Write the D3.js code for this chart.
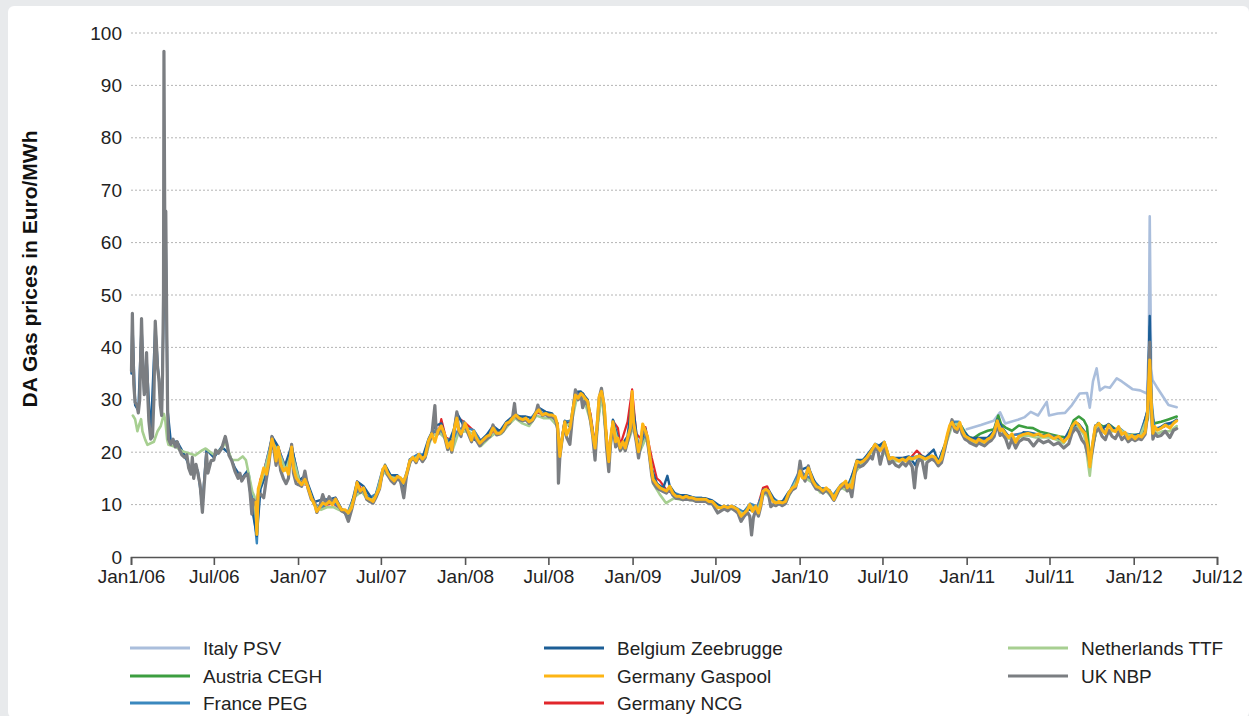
<!DOCTYPE html>
<html><head><meta charset="utf-8">
<script src="https://cdn.jsdelivr.net/npm/d3@7"></script>
<style>body{margin:0;background:#e8eaec;}svg{display:block;}</style>
</head><body>
<svg id="chart" width="1249" height="716"></svg>
<script>
// ---------- DATA ----------
const yTicks = [0,10,20,30,40,50,60,70,80,90,100];
const xTickDates = ["2006-01-01","2006-07-01","2007-01-01","2007-07-01","2008-01-01","2008-07-01","2009-01-01","2009-07-01","2010-01-01","2010-07-01","2011-01-01","2011-07-01","2012-01-01","2012-07-01"];
const xTickLabels = ["Jan1/06","Jul/06","Jan/07","Jul/07","Jan/08","Jul/08","Jan/09","Jul/09","Jan/10","Jul/10","Jan/11","Jul/11","Jan/12","Jul/12"];
const seriesNames = ["Italy PSV","Austria CEGH","Germany NCG","France PEG","Belgium Zeebrugge","Netherlands TTF","UK NBP","Germany Gaspool"];
const legendOrder = ["Italy PSV","Belgium Zeebrugge","Netherlands TTF","Austria CEGH","Germany Gaspool","UK NBP","France PEG","Germany NCG"];

const italyPSV = [["2011-01-01",24.4],["2011-02-01",25.2],["2011-03-01",26],["2011-03-15",27.6],["2011-03-26",25.5],["2011-04-23",26.2],["2011-05-08",26.7],["2011-05-21",27.7],["2011-06-06",27],["2011-06-25",29.6],["2011-06-30",27],["2011-07-19",27.4],["2011-08-04",27.5],["2011-08-19",29],["2011-09-05",31.2],["2011-09-21",31.3],["2011-09-27",28.5],["2011-10-04",33.5],["2011-10-12",36],["2011-10-19",31.8],["2011-10-30",32.5],["2011-11-10",32.3],["2011-11-25",34.1],["2011-12-06",33.5],["2011-12-17",32.8],["2011-12-30",32],["2012-01-15",31.8],["2012-01-30",31.2],["2012-02-03",40],["2012-02-05",65],["2012-02-08",36],["2012-02-11",33.8],["2012-02-20",32.5],["2012-03-02",31],["2012-03-17",29],["2012-04-04",28.6]];

const austriaCEGH = [["2010-12-20",25],["2011-01-03",23],["2011-01-15",22.6],["2011-01-30",23.5],["2011-02-16",24.1],["2011-03-02",24.4],["2011-03-11",27],["2011-03-17",25.4],["2011-03-27",24.7],["2011-04-10",24.1],["2011-04-25",25.1],["2011-05-12",24.7],["2011-05-26",24.6],["2011-06-10",23.9],["2011-06-25",23.6],["2011-07-09",23.3],["2011-07-24",23],["2011-08-08",22.8],["2011-08-23",26.1],["2011-09-03",26.8],["2011-09-14",26.1],["2011-09-21",24.9],["2011-09-27",19],["2011-10-02",20.5],["2011-10-15",25.5],["2011-10-26",24.9],["2011-11-10",25.2],["2011-11-25",24.2],["2011-12-09",23.6],["2011-12-23",23.3],["2012-01-07",23.3],["2012-01-21",23.6],["2012-02-01",26.5],["2012-02-05",38],["2012-02-09",27],["2012-02-15",25.5],["2012-03-01",25.8],["2012-03-15",26.2],["2012-04-04",26.8]];

const francePEG = [["2006-09-15",16],["2006-09-25",10],["2006-10-03",2.6],["2006-10-08",13.5],["2006-10-20",16.8],["2006-11-05",22.8],["2006-11-20",20.5],["2006-12-05",17],["2006-12-18",21],["2007-01-05",14.3],["2007-01-20",14],["2007-02-05",10.2],["2007-02-20",9.4],["2007-03-05",10.2],["2007-03-20",10.4],["2007-04-05",9.2],["2007-04-20",8.6],["2007-05-05",12],["2007-05-20",13],["2007-06-05",11.2],["2007-06-20",12],["2007-07-05",16.8],["2007-07-20",15.6],["2007-08-05",15.6],["2007-08-20",14.5],["2007-09-05",18.8],["2007-09-20",19.6],["2007-10-05",19.5],["2007-10-20",23.7],["2007-11-05",24.4],["2007-11-20",22.6],["2007-12-05",22],["2007-12-18",24.5],["2008-01-05",24.6],["2008-01-20",24.2],["2008-02-05",22],["2008-02-20",23.3],["2008-03-05",24.3],["2008-03-20",24],["2008-04-05",26],["2008-04-20",27.3],["2008-05-05",26.5],["2008-05-20",26],["2008-06-05",27.8],["2008-06-20",27.4],["2008-07-05",27.4],["2008-07-20",25.5],["2008-07-26",19.5],["2008-08-05",25.8],["2008-08-20",26],["2008-09-01",31],["2008-09-15",31.2],["2008-10-01",26.8],["2008-10-11",21],["2008-10-25",31.8],["2008-11-10",18.5],["2008-11-20",26],["2008-12-05",21],["2008-12-20",22.5],["2009-01-03",26],["2009-01-15",20.5],["2009-02-01",23.5],["2009-02-15",15],["2009-03-01",13.4],["2009-03-15",12.8],["2009-04-01",12.3],["2009-04-15",11.8],["2009-05-01",11.6],["2009-05-15",11.3],["2009-06-01",11.3],["2009-06-15",10.9],["2009-07-01",10],["2009-07-15",9.6],["2009-08-01",9.6],["2009-08-15",9.4],["2009-09-01",8.6],["2009-09-15",10.2],["2009-10-01",9.6],["2009-10-15",12.9],["2009-11-01",11.4],["2009-11-15",10.6],["2009-12-01",10.7],["2009-12-15",13.4],["2010-01-01",16.5],["2010-01-15",15.5],["2010-02-01",14.6],["2010-02-15",13.2],["2010-03-01",13],["2010-03-15",11.8],["2010-04-01",13.8],["2010-04-15",13.4],["2010-05-01",16.6],["2010-05-15",18.2],["2010-06-01",19.6],["2010-06-15",21.6],["2010-07-01",21],["2010-07-15",19],["2010-08-01",18.7],["2010-08-15",18.8],["2010-09-01",19],["2010-09-15",19.2],["2010-10-01",18.9],["2010-10-15",19.3],["2010-11-01",18.2],["2010-11-15",21.4],["2010-12-01",25.8],["2010-12-15",25.8],["2011-01-01",23],["2011-01-15",22.4],["2011-02-01",22.4],["2011-02-15",22.7],["2011-03-01",24],["2011-03-09",26.2],["2011-03-20",24.5],["2011-04-01",23],["2011-04-15",23.3],["2011-05-01",23.6],["2011-05-15",23.8],["2011-06-01",23.5],["2011-06-15",23.2],["2011-07-01",23.3],["2011-07-15",22.8],["2011-08-01",22.2],["2011-08-15",23.8],["2011-09-01",25.5],["2011-09-15",23.8],["2011-09-27",17.5],["2011-10-05",22],["2011-10-15",25.6],["2011-11-01",23.8],["2011-11-15",24.3],["2011-12-01",24.6],["2011-12-15",23.6],["2012-01-01",23.2],["2012-01-15",23.5],["2012-02-01",28],["2012-02-05",44],["2012-02-09",30],["2012-02-15",24.5],["2012-03-01",24.8],["2012-03-15",25.2],["2012-04-04",26.2]];

const belgiumZeebrugge = [["2006-01-02",35],["2006-01-04",45],["2006-01-10",29],["2006-01-17",28],["2006-01-24",44],["2006-01-30",31],["2006-02-04",38],["2006-02-13",23],["2006-02-23",44],["2006-03-01",36],["2006-03-09",28],["2006-03-14",50],["2006-03-18",60],["2006-03-22",28],["2006-03-29",22],["2006-04-12",22],["2006-04-28",19.5],["2006-05-12",16.5],["2006-05-27",16.5],["2006-06-06",10],["2006-06-15",20.5],["2006-07-01",19],["2006-07-18",21],["2006-08-03",19.8],["2006-08-16",17],["2006-08-31",15],["2006-09-13",16.5],["2006-09-22",9.5],["2006-10-03",4],["2006-10-11",13],["2006-10-24",16],["2006-11-05",23],["2006-11-19",21],["2006-11-30",16.5],["2006-12-18",21.3],["2007-01-02",14.5],["2007-01-16",15.5],["2007-02-06",10.5],["2007-02-24",11],["2007-03-10",11],["2007-03-24",11.3],["2007-04-06",9.2],["2007-04-21",7.5],["2007-05-10",14.4],["2007-05-24",13.5],["2007-06-14",10.8],["2007-06-28",13.5],["2007-07-10",17.6],["2007-07-23",15.5],["2007-08-06",15.6],["2007-08-20",13],["2007-09-02",18.6],["2007-09-16",18.6],["2007-09-30",19],["2007-10-13",22.5],["2007-10-27",25],["2007-11-10",25.5],["2007-11-24",21.3],["2007-12-08",24.5],["2007-12-14",27.5],["2007-12-29",25],["2008-01-15",22.6],["2008-02-02",22],["2008-02-17",23.3],["2008-03-02",25],["2008-03-17",24],["2008-03-31",25.8],["2008-04-14",26.8],["2008-04-28",26.8],["2008-05-13",26.8],["2008-05-27",26.5],["2008-06-10",28.5],["2008-06-25",27.7],["2008-07-09",27.4],["2008-07-21",25.5],["2008-07-26",19.5],["2008-08-06",26],["2008-08-17",24.8],["2008-08-29",31.5],["2008-09-10",31.6],["2008-09-25",30],["2008-10-11",21],["2008-10-25",32],["2008-11-10",18.5],["2008-11-19",26.2],["2008-12-05",21],["2008-12-21",23],["2008-12-31",30],["2009-01-14",20.5],["2009-01-29",24.5],["2009-02-12",16.8],["2009-02-23",14],["2009-03-09",13.2],["2009-03-18",15.5],["2009-03-23",13.6],["2009-04-06",11.8],["2009-04-28",11.8],["2009-05-20",11.2],["2009-06-10",11.2],["2009-06-24",10.8],["2009-07-13",9.6],["2009-07-28",9.6],["2009-08-12",9.6],["2009-08-26",8],["2009-09-09",9.2],["2009-09-20",8.8],["2009-10-03",8.8],["2009-10-13",12.8],["2009-10-25",12.8],["2009-11-10",10.5],["2009-11-24",10.5],["2009-12-08",12.4],["2009-12-23",13.7],["2010-01-02",16.6],["2010-01-20",17.2],["2010-02-06",13.7],["2010-02-21",12.8],["2010-03-07",12.8],["2010-03-17",11.2],["2010-04-04",14],["2010-04-20",14],["2010-05-06",18.5],["2010-05-20",18.5],["2010-06-09",20.8],["2010-06-21",21.1],["2010-07-05",22],["2010-07-16",18.9],["2010-07-30",18.9],["2010-08-14",18.9],["2010-08-28",19.2],["2010-09-11",17.5],["2010-09-19",19.5],["2010-10-03",19],["2010-10-21",20.5],["2010-10-31",18.2],["2010-11-14",21.4],["2010-11-30",25.9],["2010-12-11",24.6],["2010-12-22",24.3],["2011-01-08",22.7],["2011-01-27",22.7],["2011-02-16",22.7],["2011-03-02",24],["2011-03-09",26.2],["2011-03-20",24.6],["2011-04-03",23],["2011-04-18",22.1],["2011-05-05",23.8],["2011-05-27",23.5],["2011-06-18",23.2],["2011-07-10",22.8],["2011-08-01",22.2],["2011-08-19",25.1],["2011-09-03",25.4],["2011-09-17",23.8],["2011-09-27",18],["2011-10-09",25.1],["2011-10-24",24.4],["2011-11-07",25.4],["2011-11-22",24.1],["2011-12-06",23.8],["2011-12-20",23.2],["2012-01-04",23.2],["2012-01-18",23.5],["2012-01-31",28],["2012-02-05",46],["2012-02-08",31],["2012-02-12",24],["2012-02-22",24.4],["2012-03-10",25.4],["2012-03-28",25.7],["2012-04-04",26.2]];

const netherlandsTTF = [["2006-01-05",27],["2006-01-10",26.3],["2006-01-15",24],["2006-01-19",25.3],["2006-01-23",26.3],["2006-01-26",24],["2006-02-01",22.4],["2006-02-06",21.4],["2006-02-13",21.7],["2006-02-20",22],["2006-02-28",24],["2006-03-07",25],["2006-03-14",27.3],["2006-03-17",26],["2006-03-21",22.4],["2006-03-24",21.4],["2006-04-09",21],["2006-04-23",20.2],["2006-05-07",19.8],["2006-05-21",19.4],["2006-06-06",20.4],["2006-06-13",20.7],["2006-07-01",19.5],["2006-07-19",20.7],["2006-07-26",22],["2006-08-09",18.5],["2006-08-23",18.5],["2006-09-02",19.2],["2006-09-09",18.5],["2006-09-16",15.5],["2006-09-23",12.5],["2006-09-28",11.5],["2006-10-03",5],["2006-10-06",12.5],["2006-10-20",16.5],["2006-11-05",22],["2006-11-20",20],["2006-12-05",16.5],["2006-12-18",20],["2007-01-05",14],["2007-01-20",14],["2007-02-05",10],["2007-02-20",9],["2007-03-05",9.5],["2007-03-20",9.5],["2007-04-05",8.8],["2007-04-20",8.2],["2007-05-05",11.5],["2007-05-20",12.5],["2007-06-05",10.6],["2007-06-20",11.5],["2007-07-05",16.3],["2007-07-20",15.3],["2007-08-05",15],["2007-08-20",14],["2007-09-05",18.5],["2007-09-20",19.2],["2007-10-05",18.8],["2007-10-20",23],["2007-11-05",23.8],["2007-11-20",22.5],["2007-12-03",20],["2007-12-18",23.8],["2008-01-05",24],["2008-01-20",23.5],["2008-02-05",21.2],["2008-02-20",22.5],["2008-03-05",23.5],["2008-03-20",23.5],["2008-04-05",25.2],["2008-04-20",26.5],["2008-05-05",25.5],["2008-05-20",25],["2008-06-05",27],["2008-06-20",26.5],["2008-07-05",26.5],["2008-07-20",25],["2008-07-26",19.5],["2008-08-05",25],["2008-08-20",25.5],["2008-09-01",30.3],["2008-09-15",30.5],["2008-10-01",26],["2008-10-11",20.5],["2008-10-25",31.2],["2008-11-10",18.3],["2008-11-20",25.3],["2008-12-05",20.3],["2008-12-20",21.5],["2009-01-03",25],["2009-01-15",19.8],["2009-02-01",23],["2009-02-15",14],["2009-03-01",12],["2009-03-15",10.3],["2009-04-01",11.2],["2009-04-15",11],["2009-05-01",11],["2009-05-15",10.8],["2009-06-01",10.8],["2009-06-15",10.4],["2009-07-01",9.8],["2009-07-15",9.2],["2009-08-01",9.2],["2009-08-15",9],["2009-09-01",8.2],["2009-09-15",9.8],["2009-10-01",8.8],["2009-10-15",12.3],["2009-11-01",11],["2009-11-15",10.2],["2009-12-01",10.2],["2009-12-15",12.8],["2010-01-01",15.8],["2010-01-15",15],["2010-02-01",14],["2010-02-15",12.3],["2010-03-01",12.5],["2010-03-15",11.2],["2010-04-01",13.3],["2010-04-15",12.6],["2010-05-01",16],["2010-05-15",17.5],["2010-06-01",19.3],["2010-06-15",21],["2010-07-01",20.5],["2010-07-15",18.7],["2010-08-01",18.3],["2010-08-15",18.3],["2010-09-01",18.6],["2010-09-15",18.9],["2010-10-01",18.6],["2010-10-15",18.9],["2010-11-01",17.8],["2010-11-15",21],["2010-12-01",25.3],["2010-12-15",25.4],["2011-01-01",22.6],["2011-01-15",21.7],["2011-02-01",21.7],["2011-02-15",22],["2011-03-01",23.5],["2011-03-09",25.6],["2011-03-20",24],["2011-04-01",22.6],["2011-04-15",22.5],["2011-05-01",23],["2011-05-15",23.2],["2011-06-01",22.8],["2011-06-15",22.8],["2011-07-01",22.8],["2011-07-15",22.4],["2011-08-01",21.7],["2011-08-15",23.5],["2011-09-01",25],["2011-09-15",23.2],["2011-09-27",15.5],["2011-10-05",22],["2011-10-15",25],["2011-11-01",23.4],["2011-11-15",24],["2011-12-01",24.4],["2011-12-15",23.5],["2012-01-01",23],["2012-01-15",23],["2012-02-01",27],["2012-02-05",37],["2012-02-10",25],["2012-02-20",23.5],["2012-03-05",24],["2012-03-20",24],["2012-04-04",25]];

const germanyNCG = [["2006-10-03",5],["2006-10-10",14.6],["2006-10-20",17],["2006-11-05",22.5],["2006-11-20",20.6],["2006-12-05",17],["2006-12-18",21],["2007-01-05",14],["2007-01-20",13.8],["2007-02-05",10],["2007-02-20",9.2],["2007-03-05",10],["2007-03-20",10.2],["2007-04-05",9],["2007-04-20",8.5],["2007-05-05",11.8],["2007-05-10",14.4],["2007-05-20",12.8],["2007-06-05",11],["2007-06-20",11.8],["2007-07-05",16.6],["2007-07-20",15.4],["2007-08-05",15.4],["2007-08-20",14.2],["2007-09-05",18.6],["2007-09-20",19.6],["2007-10-05",19.2],["2007-10-20",23.5],["2007-11-05",24.2],["2007-11-10",26.3],["2007-11-20",22.8],["2007-12-05",22.1],["2007-12-14",26.8],["2008-01-01",25.6],["2008-01-20",24.1],["2008-02-05",22],["2008-02-20",23.1],["2008-03-05",24.1],["2008-03-20",23.8],["2008-04-05",25.8],["2008-04-20",27.1],["2008-05-05",26.3],["2008-05-20",26],["2008-06-05",27.6],["2008-06-20",27.2],["2008-07-05",27.2],["2008-07-20",25.6],["2008-07-26",19.8],["2008-08-05",25.8],["2008-08-20",25.8],["2008-09-01",31.3],["2008-09-15",31.2],["2008-10-01",27.4],["2008-10-11",21.3],["2008-10-25",31.8],["2008-11-05",23.5],["2008-11-10",18.8],["2008-11-19",26],["2008-11-30",24.6],["2008-12-05",21.3],["2008-12-21",25.8],["2008-12-31",32],["2009-01-09",23.5],["2009-01-19",22.6],["2009-01-29",24.8],["2009-02-08",20.5],["2009-02-12",18.9],["2009-02-23",15],["2009-03-02",14.5],["2009-03-16",12.8],["2009-04-01",12],["2009-04-15",11.6],["2009-05-01",11.4],["2009-05-15",11.1],["2009-06-01",11.1],["2009-06-15",10.7],["2009-07-01",9.7],["2009-07-15",9.4],["2009-08-01",9.6],["2009-08-15",9.2],["2009-09-01",8.5],["2009-09-15",10],["2009-10-01",9.5],["2009-10-13",13.2],["2009-10-22",13.5],["2009-11-01",11.4],["2009-11-15",10.4],["2009-12-01",10.6],["2009-12-15",13.2],["2010-01-01",16.3],["2010-01-15",15.4],["2010-02-01",14.5],["2010-02-15",13.1],["2010-03-01",13],["2010-03-15",11.6],["2010-04-01",13.7],["2010-04-15",13.2],["2010-05-01",16.4],["2010-05-15",18.1],["2010-06-01",19.4],["2010-06-15",21.5],["2010-07-01",20.8],["2010-07-15",18.8],["2010-08-01",18.6],["2010-08-15",18.7],["2010-09-01",19],["2010-09-14",20.3],["2010-10-01",18.8],["2010-10-15",19.2],["2010-11-01",18.1],["2010-11-15",21.3],["2010-12-01",25.6],["2010-12-15",25.4],["2011-01-01",23],["2011-01-15",22.3],["2011-02-01",22.2],["2011-02-15",22.6],["2011-03-01",23.8],["2011-03-09",26],["2011-03-20",24.4],["2011-04-01",23],["2011-04-15",23.3],["2011-05-01",23.5],["2011-05-15",23.6],["2011-06-01",23.4],["2011-06-15",23.1],["2011-07-01",23.3],["2011-07-15",22.8],["2011-08-01",22.1],["2011-08-15",23.6],["2011-09-01",25.4],["2011-09-15",23.7],["2011-09-27",17.6],["2011-10-05",22],["2011-10-15",25.4],["2011-11-01",23.8],["2011-11-15",24.2],["2011-12-01",24.4],["2011-12-15",23.5],["2012-01-01",23.1],["2012-01-15",23.4],["2012-02-01",27.8],["2012-02-05",38.3],["2012-02-09",28.8],["2012-02-15",24.4],["2012-03-01",24.6],["2012-03-15",25.2],["2012-04-04",26.1]];

const ukNBP = [["2006-01-02",35.5],["2006-01-04",46.5],["2006-01-07",33],["2006-01-10",29.5],["2006-01-14",29],["2006-01-17",27.5],["2006-01-20",30],["2006-01-24",45.5],["2006-01-27",36],["2006-01-30",31],["2006-02-02",33],["2006-02-04",39],["2006-02-07",30],["2006-02-09",26],["2006-02-13",22.5],["2006-02-17",23],["2006-02-20",30],["2006-02-23",45],["2006-02-26",40],["2006-02-28",36],["2006-03-03",34],["2006-03-06",29],["2006-03-09",27],["2006-03-11",35],["2006-03-13",50],["2006-03-14",96.5],["2006-03-16",60],["2006-03-18",66],["2006-03-20",45],["2006-03-22",28],["2006-03-24",22.5],["2006-03-29",21.5],["2006-04-03",22.5],["2006-04-08",21],["2006-04-12",22],["2006-04-17",20.5],["2006-04-22",19.5],["2006-04-28",19],["2006-05-03",19.5],["2006-05-07",17],["2006-05-12",15.8],["2006-05-15",19],["2006-05-18",15],["2006-05-23",17.7],["2006-05-27",16],["2006-06-01",13.8],["2006-06-06",8.5],["2006-06-10",13.8],["2006-06-15",19.7],["2006-06-18",16],["2006-06-25",18.4],["2006-07-01",18.5],["2006-07-05",20.4],["2006-07-11",19.8],["2006-07-18",20.7],["2006-07-26",23],["2006-07-30",21.5],["2006-08-03",19.4],["2006-08-09",18.4],["2006-08-16",16.4],["2006-08-23",15],["2006-08-27",16],["2006-08-31",14.5],["2006-09-07",15.5],["2006-09-13",15.8],["2006-09-18",12.5],["2006-09-22",8.2],["2006-09-25",11],["2006-09-29",10.5],["2006-10-03",9.5],["2006-10-06",12],["2006-10-11",12],["2006-10-18",11.3],["2006-10-24",15],["2006-10-29",17.5],["2006-11-05",23],["2006-11-10",20],["2006-11-14",17.5],["2006-11-19",20],["2006-11-24",16.5],["2006-11-30",15],["2006-12-06",14],["2006-12-11",15],["2006-12-18",21.5],["2006-12-22",16],["2006-12-28",14],["2007-01-02",13.8],["2007-01-09",13.5],["2007-01-16",16.4],["2007-01-23",13],["2007-01-30",11],["2007-02-06",10.6],["2007-02-11",8.5],["2007-02-17",9.6],["2007-02-24",11.9],["2007-03-03",10],["2007-03-10",11.5],["2007-03-17",10.5],["2007-03-24",11.2],["2007-03-30",10],["2007-04-06",8.8],["2007-04-14",8.4],["2007-04-21",6.8],["2007-04-28",9],["2007-05-05",11.5],["2007-05-10",13.8],["2007-05-17",12.3],["2007-05-24",13],["2007-05-31",11],["2007-06-07",10.6],["2007-06-14",10.3],["2007-06-21",11.5],["2007-06-28",13],["2007-07-05",16.4],["2007-07-10",17],["2007-07-16",15.6],["2007-07-23",14.6],["2007-07-30",14],["2007-08-06",15],["2007-08-13",14.5],["2007-08-20",11.3],["2007-08-26",15.5],["2007-09-02",18],["2007-09-09",19],["2007-09-16",18],["2007-09-22",19.3],["2007-09-30",18.2],["2007-10-06",19],["2007-10-13",21.8],["2007-10-20",23],["2007-10-27",28.9],["2007-10-30",24],["2007-11-03",23.5],["2007-11-10",25],["2007-11-17",23],["2007-11-24",20.5],["2007-12-01",21.5],["2007-12-03",20],["2007-12-08",24],["2007-12-14",27.7],["2007-12-18",24],["2007-12-23",23],["2007-12-29",25.8],["2008-01-01",25],["2008-01-08",23.5],["2008-01-15",22],["2008-01-20",23.5],["2008-01-26",22.2],["2008-02-02",21.2],["2008-02-09",22],["2008-02-17",22.5],["2008-02-24",23],["2008-03-02",25.2],["2008-03-10",23.3],["2008-03-17",23.5],["2008-03-24",24],["2008-03-31",25.2],["2008-04-07",25.5],["2008-04-14",26.8],["2008-04-18",29.3],["2008-04-21",26.8],["2008-04-28",26.2],["2008-05-06",26],["2008-05-13",26.2],["2008-05-20",25.5],["2008-05-27",26],["2008-06-03",27.2],["2008-06-08",29],["2008-06-10",28.4],["2008-06-18",27],["2008-06-25",27.2],["2008-07-02",26.8],["2008-07-09",26.8],["2008-07-16",26.4],["2008-07-21",24.5],["2008-07-23",14.1],["2008-07-26",19],["2008-07-31",22.5],["2008-08-06",25.5],["2008-08-10",22.8],["2008-08-17",21.5],["2008-08-24",28],["2008-08-29",31.9],["2008-09-04",30],["2008-09-10",31],["2008-09-14",28.5],["2008-09-19",29.8],["2008-09-25",29],["2008-10-01",26],["2008-10-06",23],["2008-10-11",18.5],["2008-10-16",25.5],["2008-10-20",30.3],["2008-10-25",32.2],["2008-10-31",28.5],["2008-11-05",21],["2008-11-10",16.3],["2008-11-14",22],["2008-11-19",25.3],["2008-11-25",21],["2008-11-30",22],["2008-12-05",20.3],["2008-12-11",21.5],["2008-12-16",20.3],["2008-12-21",22],["2008-12-27",24],["2008-12-31",28],["2009-01-03",25],["2009-01-09",22],["2009-01-14",18.9],["2009-01-19",21.5],["2009-01-23",24.5],["2009-01-29",23.5],["2009-02-03",22],["2009-02-08",18.5],["2009-02-12",15.5],["2009-02-15",14.2],["2009-02-23",13.2],["2009-03-02",12.8],["2009-03-09",12.5],["2009-03-16",12.2],["2009-03-23",13],["2009-03-30",11.8],["2009-04-06",11.2],["2009-04-13",11.2],["2009-04-21",10.9],["2009-04-28",11.2],["2009-05-05",10.9],["2009-05-12",10.9],["2009-05-20",10.6],["2009-05-27",10.6],["2009-06-03",10.6],["2009-06-10",10.6],["2009-06-17",10.2],["2009-06-24",10.2],["2009-07-06",8.4],["2009-07-13",8.8],["2009-07-20",9.2],["2009-07-28",8.8],["2009-08-04",9.4],["2009-08-12",8.9],["2009-08-19",8.4],["2009-08-26",6.8],["2009-09-02",7.8],["2009-09-09",8.5],["2009-09-14",7.8],["2009-09-18",4.2],["2009-09-22",7.5],["2009-09-27",9],["2009-10-03",7.8],["2009-10-08",9.6],["2009-10-13",12],["2009-10-19",12.5],["2009-10-25",12],["2009-10-30",9.6],["2009-11-04",10],["2009-11-10",9.8],["2009-11-17",10.2],["2009-11-24",9.8],["2009-12-01",10.2],["2009-12-08",11.8],["2009-12-16",12.8],["2009-12-23",13.2],["2009-12-28",15],["2010-01-02",18.3],["2010-01-07",15.5],["2010-01-13",14.5],["2010-01-20",17.4],["2010-01-25",15.4],["2010-01-30",14],["2010-02-06",13],["2010-02-14",12.8],["2010-02-21",12.2],["2010-02-28",12.8],["2010-03-07",12.2],["2010-03-13",11.3],["2010-03-17",10.8],["2010-03-21",11.5],["2010-03-28",12.8],["2010-04-04",13.4],["2010-04-12",14],["2010-04-15",12.6],["2010-04-20",13.2],["2010-04-25",11.5],["2010-05-01",15.5],["2010-05-06",17.5],["2010-05-13",17.2],["2010-05-20",17.5],["2010-05-28",18.3],["2010-06-04",19.2],["2010-06-09",18.7],["2010-06-15",21],["2010-06-21",20.3],["2010-06-26",17.7],["2010-07-01",19.5],["2010-07-05",21.3],["2010-07-10",19.8],["2010-07-16",17.8],["2010-07-23",18.3],["2010-07-30",17.5],["2010-08-06",17.2],["2010-08-14",18],["2010-08-21",17.4],["2010-08-28",18.3],["2010-09-04",17.2],["2010-09-09",13.2],["2010-09-13",17],["2010-09-19",18.7],["2010-09-26",18.3],["2010-10-03",15.1],["2010-10-06",18],["2010-10-10",18.3],["2010-10-17",18.7],["2010-10-24",18.3],["2010-10-31",17.4],["2010-11-07",18],["2010-11-14",20.5],["2010-11-20",23],["2010-11-25",24.6],["2010-11-30",26.2],["2010-12-06",24],["2010-12-11",23.8],["2010-12-17",25.2],["2010-12-22",23.5],["2010-12-28",22.5],["2011-01-03",22.2],["2011-01-08",21.8],["2011-01-15",21.5],["2011-01-22",21.2],["2011-01-27",21.8],["2011-02-02",21.5],["2011-02-09",21.2],["2011-02-16",21.8],["2011-02-23",22.2],["2011-03-02",23],["2011-03-09",25.4],["2011-03-15",23.2],["2011-03-20",23.5],["2011-03-27",22.6],["2011-04-03",20.8],["2011-04-10",22.5],["2011-04-18",20.8],["2011-04-25",22],["2011-05-05",22.6],["2011-05-16",22.4],["2011-05-27",21.2],["2011-06-07",22.4],["2011-06-18",21.8],["2011-06-29",22.2],["2011-07-10",21.4],["2011-07-21",21.8],["2011-08-01",20.8],["2011-08-12",21.6],["2011-08-19",23.6],["2011-08-27",24.6],["2011-09-03",23.8],["2011-09-10",22.3],["2011-09-17",21.5],["2011-09-23",19.5],["2011-09-27",18],["2011-10-02",20],["2011-10-09",23.8],["2011-10-17",24.5],["2011-10-24",23],["2011-10-31",22.4],["2011-11-07",24.2],["2011-11-15",23],["2011-11-22",22.6],["2011-11-29",23.8],["2011-12-06",22.4],["2011-12-13",23],["2011-12-20",22],["2011-12-28",22.6],["2012-01-04",22.2],["2012-01-11",22.6],["2012-01-18",22.4],["2012-01-26",23.4],["2012-01-31",27],["2012-02-05",41],["2012-02-08",29],["2012-02-12",22.5],["2012-02-16",23.6],["2012-02-22",23],["2012-03-01",23.2],["2012-03-10",24],["2012-03-20",22.8],["2012-03-28",24.2],["2012-04-04",24.5]];

const germanyGaspool = [["2006-10-01",10.5],["2006-10-03",4.3],["2006-10-06",13],["2006-10-11",14.5],["2006-10-18",17],["2006-10-24",15.8],["2006-10-29",18.3],["2006-11-05",22.5],["2006-11-10",21],["2006-11-14",18.3],["2006-11-19",21],["2006-11-24",17.7],["2006-11-30",16.4],["2006-12-06",17],["2006-12-11",15.8],["2006-12-18",21],["2006-12-22",17],["2006-12-28",15.1],["2007-01-02",14.5],["2007-01-09",13.8],["2007-01-16",14.8],["2007-01-23",13.2],["2007-01-30",11.3],["2007-02-06",10],["2007-02-11",8.7],["2007-02-17",9.4],["2007-02-24",10.3],["2007-03-03",10],["2007-03-10",10.6],["2007-03-17",10],["2007-03-24",11],["2007-03-30",10],["2007-04-06",9],["2007-04-14",9],["2007-04-21",8.4],["2007-04-28",9.4],["2007-05-05",11.9],["2007-05-10",14.2],["2007-05-17",12.6],["2007-05-24",13.2],["2007-05-31",11.3],["2007-06-07",11],["2007-06-14",10.6],["2007-06-21",11.9],["2007-06-28",13.2],["2007-07-05",16.7],["2007-07-10",17.4],["2007-07-16",16],["2007-07-23",15.1],["2007-07-30",14.5],["2007-08-06",15.4],["2007-08-13",15.1],["2007-08-19",14.2],["2007-08-26",15.8],["2007-09-02",18.3],["2007-09-09",19],["2007-09-16",18.3],["2007-09-22",19.6],["2007-09-30",18.7],["2007-10-06",19.3],["2007-10-13",22.2],["2007-10-20",23.5],["2007-10-27",21.9],["2007-11-03",24.1],["2007-11-10",25],["2007-11-17",23.5],["2007-11-24",20.9],["2007-12-01",22],["2007-12-03",20.4],["2007-12-08",24.3],["2007-12-14",26.5],["2007-12-18",24.3],["2007-12-23",23.5],["2007-12-29",24.6],["2008-01-01",25.5],["2008-01-08",24],["2008-01-15",22.3],["2008-01-20",24],["2008-01-26",22.7],["2008-02-02",21.7],["2008-02-09",22.3],["2008-02-17",23],["2008-02-24",23.3],["2008-03-02",24.6],["2008-03-10",23.6],["2008-03-17",23.6],["2008-03-24",24.3],["2008-03-31",25.5],["2008-04-07",25.8],["2008-04-14",26.5],["2008-04-21",27.1],["2008-04-28",26.5],["2008-05-06",26.2],["2008-05-13",26.5],["2008-05-20",25.8],["2008-05-27",26.2],["2008-06-03",27.4],["2008-06-10",28.1],["2008-06-18",27.1],["2008-06-25",27.4],["2008-07-02",27.1],["2008-07-09",27.1],["2008-07-16",26.8],["2008-07-21",25.2],["2008-07-26",19.2],["2008-07-31",22.7],["2008-08-06",25.8],["2008-08-10",23.3],["2008-08-17",24.6],["2008-08-24",28.4],["2008-08-29",30.9],["2008-09-04",30.3],["2008-09-10",31.2],["2008-09-14",30.9],["2008-09-19",30.3],["2008-09-25",29.7],["2008-10-01",26.5],["2008-10-06",23.3],["2008-10-11",20.8],["2008-10-16",25.8],["2008-10-20",30.6],["2008-10-25",31.6],["2008-10-31",29],["2008-11-05",22.7],["2008-11-10",18.2],["2008-11-14",22.7],["2008-11-19",25.8],["2008-11-25",22],["2008-11-30",22.7],["2008-12-05",20.8],["2008-12-11",22],["2008-12-16",20.8],["2008-12-21",22.7],["2008-12-27",24.6],["2008-12-31",31.6],["2009-01-03",25.8],["2009-01-09",22.7],["2009-01-14",20.1],["2009-01-19",22],["2009-01-23",25.4],["2009-01-29",24.1],["2009-02-03",22.8],["2009-02-08",19],["2009-02-12",16.4],["2009-02-15",14.8],["2009-02-23",13.8],["2009-03-02",13.2],["2009-03-09",12.9],["2009-03-16",12.6],["2009-03-23",13.5],["2009-03-30",12.2],["2009-04-06",11.6],["2009-04-13",11.6],["2009-04-21",11.3],["2009-04-28",11.6],["2009-05-05",11.3],["2009-05-12",11.3],["2009-05-20",11],["2009-05-27",11],["2009-06-03",11],["2009-06-10",11],["2009-06-17",10.6],["2009-06-24",10.6],["2009-07-06",9.4],["2009-07-13",9.4],["2009-07-20",9.7],["2009-07-28",9.4],["2009-08-04",9.7],["2009-08-12",9.4],["2009-08-19",9],["2009-08-26",7.8],["2009-09-02",8.4],["2009-09-09",9],["2009-09-14",10],["2009-09-20",8.7],["2009-09-27",9.7],["2009-10-03",8.4],["2009-10-08",10],["2009-10-13",12.6],["2009-10-19",12.9],["2009-10-25",12.6],["2009-10-30",11.6],["2009-11-04",10.6],["2009-11-10",10.3],["2009-11-17",10.6],["2009-11-24",10.3],["2009-12-01",10.6],["2009-12-08",12.2],["2009-12-16",13.2],["2009-12-23",13.5],["2009-12-28",14.5],["2010-01-02",16.4],["2010-01-07",15.1],["2010-01-13",15.1],["2010-01-20",17],["2010-01-25",15.8],["2010-01-30",14.5],["2010-02-06",13.5],["2010-02-14",13.2],["2010-02-21",12.6],["2010-02-28",13.2],["2010-03-07",12.6],["2010-03-13",11.9],["2010-03-17",11],["2010-03-21",11.9],["2010-03-28",13.2],["2010-04-04",13.8],["2010-04-12",14.5],["2010-04-15",13.2],["2010-04-20",13.8],["2010-04-25",13.2],["2010-05-01",16.4],["2010-05-06",18.3],["2010-05-13",18],["2010-05-20",18.3],["2010-05-28",19],["2010-06-04",19.9],["2010-06-09",20.6],["2010-06-15",21.5],["2010-06-21",20.9],["2010-06-26",20.3],["2010-07-01",20.9],["2010-07-05",21.9],["2010-07-10",20.6],["2010-07-16",18.7],["2010-07-23",19],["2010-07-30",18.7],["2010-08-06",18.3],["2010-08-14",18.7],["2010-08-21",18.3],["2010-08-28",19],["2010-09-04",18.7],["2010-09-11",19],["2010-09-19",19.3],["2010-09-26",19],["2010-10-03",18.7],["2010-10-10",19],["2010-10-17",19.3],["2010-10-24",19],["2010-10-31",18],["2010-11-07",18.7],["2010-11-14",21.2],["2010-11-20",23.5],["2010-11-25",25.1],["2010-11-30",25.7],["2010-12-06",24.7],["2010-12-11",24.4],["2010-12-17",25.7],["2010-12-22",24.1],["2010-12-28",23.1],["2011-01-03",22.8],["2011-01-08",22.5],["2011-01-15",22.2],["2011-01-22",21.9],["2011-01-27",22.5],["2011-02-02",22.2],["2011-02-09",21.9],["2011-02-16",22.5],["2011-02-23",22.8],["2011-03-02",23.8],["2011-03-09",26],["2011-03-15",24.1],["2011-03-20",24.4],["2011-03-27",23.5],["2011-04-03",22.8],["2011-04-10",23.5],["2011-04-18",21.9],["2011-04-25",23],["2011-05-05",23.4],["2011-05-16",23.6],["2011-05-27",23.2],["2011-06-07",23.5],["2011-06-18",23],["2011-06-29",23.3],["2011-07-10",22.6],["2011-07-21",23],["2011-08-01",22],["2011-08-12",23],["2011-08-19",24.9],["2011-08-27",25.8],["2011-09-03",25.2],["2011-09-10",24.2],["2011-09-17",23.6],["2011-09-23",21],["2011-09-27",17.2],["2011-10-02",21],["2011-10-09",24.9],["2011-10-17",25.5],["2011-10-24",24.2],["2011-10-31",23.6],["2011-11-07",25.2],["2011-11-15",24.2],["2011-11-22",23.9],["2011-11-29",24.9],["2011-12-06",23.4],["2011-12-13",23.8],["2011-12-20",22.6],["2011-12-28",23.2],["2012-01-04",22.6],["2012-01-11",23.2],["2012-01-18",22.9],["2012-01-26",23.8],["2012-01-31",27.4],["2012-02-05",37.6],["2012-02-08",30],["2012-02-12",23.6],["2012-02-16",24.9],["2012-02-22",24.2],["2012-03-01",24.6],["2012-03-10",25.2],["2012-03-20",24.6],["2012-03-28",25.5],["2012-04-04",26]];

const seriesData = {"Italy PSV":italyPSV,"Austria CEGH":austriaCEGH,"France PEG":francePEG,"Belgium Zeebrugge":belgiumZeebrugge,"Netherlands TTF":netherlandsTTF,"Germany NCG":germanyNCG,"UK NBP":ukNBP,"Germany Gaspool":germanyGaspool};
const seriesColors = {"Italy PSV":"#aabedc","Austria CEGH":"#3c9e40","France PEG":"#3a88be","Belgium Zeebrugge":"#1c5e96","Netherlands TTF":"#a7cf91","Germany NCG":"#e1262b","UK NBP":"#7b7e82","Germany Gaspool":"#fdb515"};
const seriesWidths = {"Italy PSV":2.6,"Austria CEGH":2.6,"France PEG":2.4,"Belgium Zeebrugge":2.4,"Netherlands TTF":2.6,"Germany NCG":2.2,"UK NBP":3.2,"Germany Gaspool":3};

// ---------- DRAWING ----------
const svg = d3.select("#chart");
const parse = d3.timeParse("%Y-%m-%d");
const font = "'Liberation Sans', Arial, Helvetica, sans-serif";

svg.append("rect").attr("x",0).attr("y",0).attr("width",1249).attr("height",716).attr("fill","#e8eaec");
svg.append("rect").attr("x",8).attr("y",6).attr("width",1241).attr("height",712).attr("rx",6).attr("fill","#ffffff");

const x = d3.scaleTime().domain([parse("2006-01-01"), parse("2012-07-01")]).range([131, 1217]);
const y = d3.scaleLinear().domain([0, 100]).range([557, 33]);

// gridlines
svg.append("g").selectAll("line").data(yTicks.filter(d => d > 0)).join("line")
  .attr("x1", 131).attr("x2", 1217)
  .attr("y1", d => y(d)).attr("y2", d => y(d))
  .attr("stroke", "#b4b4b4").attr("stroke-width", 1).attr("stroke-dasharray", "2,2");

// y tick labels
svg.append("g").selectAll("text").data(yTicks).join("text")
  .attr("x", 122).attr("y", d => y(d)).attr("dy", "0.35em")
  .attr("text-anchor", "end").attr("font-family", font).attr("font-size", 19).attr("fill", "#222")
  .text(d => d);

// x axis
const xAxis = d3.axisBottom(x)
  .tickValues(xTickDates.map(parse))
  .tickFormat((d, i) => xTickLabels[i])
  .tickSizeOuter(0).tickSize(8).tickPadding(5);
const gx = svg.append("g").attr("transform", "translate(0,557)").call(xAxis);
gx.select(".domain").attr("stroke", "#555").attr("stroke-width", 1.6);
gx.selectAll(".tick line").attr("stroke", "#555").attr("stroke-width", 1.6);
gx.selectAll(".tick text").attr("font-family", font).attr("font-size", 19).attr("fill", "#222");

// y title
svg.append("text").attr("transform", "translate(37,269) rotate(-90)")
  .attr("text-anchor", "middle").attr("font-family", font).attr("font-weight", "bold")
  .attr("font-size", 21).attr("fill", "#111").text("DA Gas prices in Euro/MWh");

// lines
const line = d3.line().x(d => x(parse(d[0]))).y(d => y(d[1])).curve(d3.curveLinear);
svg.append("g").selectAll("path").data(seriesNames).join("path")
  .attr("d", name => line(seriesData[name]))
  .attr("fill", "none")
  .attr("stroke", name => seriesColors[name])
  .attr("stroke-width", name => seriesWidths[name])
  .attr("stroke-linejoin", "round").attr("stroke-linecap", "round");

// legend
const colX = [130, 544, 1008];
const rowY = [648, 676, 703];
const lg = svg.append("g").selectAll("g").data(legendOrder).join("g")
  .attr("transform", (d, i) => `translate(${colX[i % 3]},${rowY[Math.floor(i / 3)]})`);
lg.append("line").attr("x1", 0).attr("x2", 60).attr("y1", 0).attr("y2", 0)
  .attr("stroke", d => seriesColors[d]).attr("stroke-width", 3);
lg.append("text").attr("x", 73).attr("y", 0).attr("dy", "0.35em")
  .attr("font-family", font).attr("font-size", 19).attr("fill", "#222").text(d => d);
</script>
</body></html>
